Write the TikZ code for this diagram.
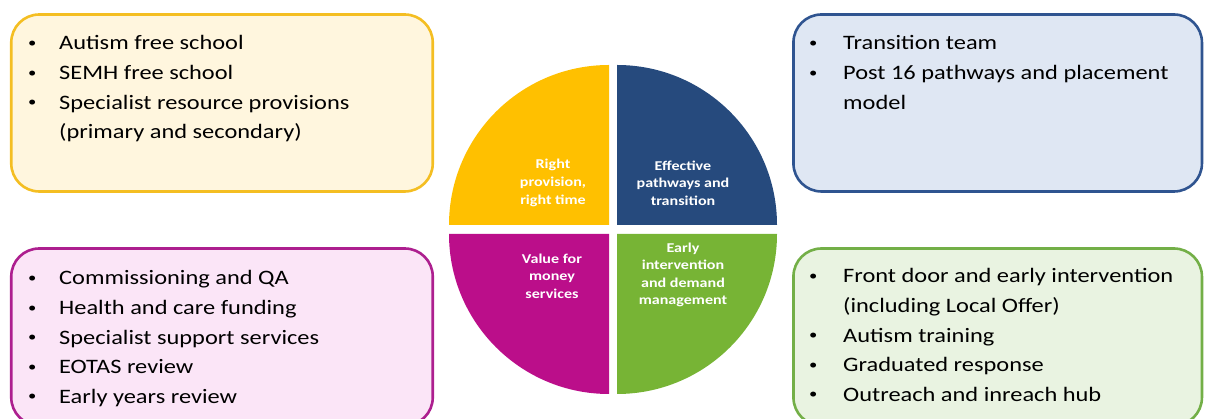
\documentclass[tikz,border=0pt]{standalone}
\usepackage{fontspec}
\setmainfont{Carlito}[FakeStretch=1.19]
\usetikzlibrary{positioning}

\definecolor{provq}{HTML}{FFC000}
\definecolor{pathq}{HTML}{264A7D}
\definecolor{valueq}{HTML}{BB0E8A}
\definecolor{earlyq}{HTML}{77B435}
\definecolor{provline}{HTML}{F4BE22}
\definecolor{provfill}{HTML}{FFF6DE}
\definecolor{pathline}{HTML}{2F5490}
\definecolor{pathfill}{HTML}{DFE7F3}
\definecolor{valueline}{HTML}{AD1F8F}
\definecolor{valuefill}{HTML}{FBE5F7}
\definecolor{earlyline}{HTML}{73AF47}
\definecolor{earlyfill}{HTML}{E9F3E1}

\newcommand{\dotmark}{\raisebox{2.4pt}{\fontsize{14}{14}\selectfont\textbullet}}

\begin{document}
\begin{tikzpicture}[x=1pt,y=1pt,
                    panel/.style={draw,line width=2.6pt,rounded corners=28pt,
                                  minimum height=177pt,inner sep=0pt},
                    items/.style={anchor=base west,inner sep=0pt,
                                  font=\fontsize{20.5}{29.6}\selectfont},
                    quarter/.style={text=white,align=center,inner sep=0pt,
                                    font=\bfseries\fontsize{13.5}{17.6}\selectfont}]
  \clip (0,0) rectangle (1205,419);
  % boxes round the circle
  \node[panel,draw=provline,fill=provfill,minimum width=421.5pt] (provbox) at (222,316) {};
  \node[panel,draw=pathline,fill=pathfill,minimum width=408.5pt] (pathbox) at (997.7,316) {};
  \node[panel,draw=valueline,fill=valuefill,minimum width=421.5pt] (valuebox) at (222,82) {};
  \node[panel,draw=earlyline,fill=earlyfill,minimum width=408.5pt] (earlybox) at (997.7,82) {};
  % the four quarters
  \fill[provq] (609,194) -- ++(-160,0) arc[start angle=180,end angle=90,radius=160] -- cycle;
  \fill[pathq] (617,194) -- ++(0,160) arc[start angle=90,end angle=0,radius=160] -- cycle;
  \fill[valueq] (609,185) -- ++(0,-160) arc[start angle=270,end angle=180,radius=160] -- cycle;
  \fill[earlyq] (617,185) -- ++(160,0) arc[start angle=0,end angle=-90,radius=160] -- cycle;
  \node[quarter] (prov) at (553,236) {Right\\provision,\\right time};
  \node[quarter] (path) at (683,236) {Effective\\pathways and\\transition};
  \node[quarter] (value) at (552,143) {Value for\\money\\services};
  \node[quarter] (early) at (683,144) {Early\\intervention\\and demand\\management};
  % bullet lists
  \node[items] (provlist) at (28,369) {\begin{tabular}[t]{@{}p{31pt}@{}l@{}}
    \dotmark & Autism free school\\
    \dotmark & SEMH free school\\
    \dotmark & Specialist resource provisions\\
             & (primary and secondary)
  \end{tabular}};
  \node[items] (pathlist) at (809,369) {\begin{tabular}[t]{@{}p{34pt}@{}l@{}}
    \dotmark & Transition team\\
    \dotmark & Post 16 pathways and placement\\
             & model
  \end{tabular}};
  \node[items] (valuelist) at (28,134) {\begin{tabular}[t]{@{}p{31pt}@{}l@{}}
    \dotmark & Commissioning and QA\\
    \dotmark & Health and care funding\\
    \dotmark & Specialist support services\\
    \dotmark & EOTAS review\\
    \dotmark & Early years review
  \end{tabular}};
  \node[items] (earlylist) at (809,136) {\begin{tabular}[t]{@{}p{34pt}@{}l@{}}
    \dotmark & Front door and early intervention\\
             & (including Local Offer)\\
    \dotmark & Autism training\\
    \dotmark & Graduated response\\
    \dotmark & Outreach and inreach hub
  \end{tabular}};
\end{tikzpicture}
\end{document}
